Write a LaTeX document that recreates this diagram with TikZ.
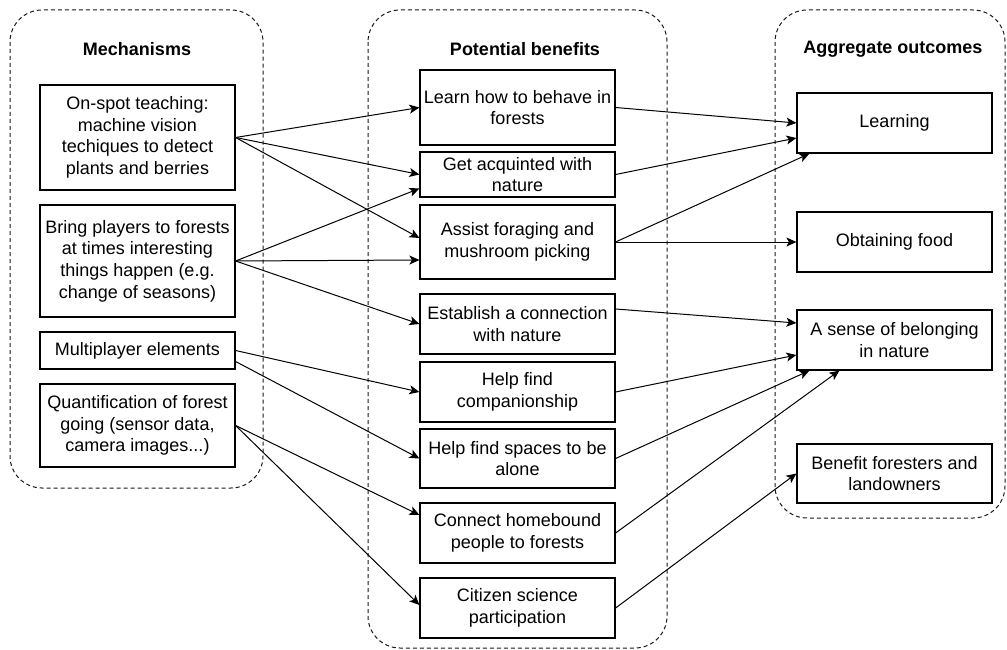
\documentclass[tikz,border=0pt]{standalone}
\usepackage{fontspec}
\setmainfont{Liberation Sans}
\usepackage{tikz}
\usetikzlibrary{arrows.meta,positioning,calc}

\begin{document}
\begin{tikzpicture}[x=1pt, y=-1pt,
    group/.style={draw=black!90, line width=1pt, dash pattern=on 4pt off 3pt, rounded corners=32pt},
    title/.style={font=\fontsize{18}{21.6}\selectfont\bfseries},
    item/.style={draw, line width=1.2pt, align=center, minimum width=195pt, inner sep=0pt,
        font=\fontsize{18}{21.6}\selectfont},
    link/.style={-{Stealth[length=10pt,width=9pt,inset=2.5pt]}, line width=1pt}]
    \useasboundingbox (0,0) rectangle (1007,650);

    % Groups
    \draw[group] (10,10) rectangle (263,488);
    \draw[group] (368,10) rectangle (667,648);
    \draw[group] (775,10) rectangle (1005,518);
    \node[title] (t1) at (137,49) {Mechanisms};
    \node[title] (t2) at (525,49) {Potential benefits};
    \node[title] (t3) at (893,49) {Aggregate outcomes};

    % Mechanisms
    \node[item, minimum height=105pt] (m1) at (137.5,137.5) {On-spot teaching:\\machine vision\\techiques to detect\\plants and berries};
    \node[item, minimum height=112pt] (m2) at (137.5,261) {Bring players to forests\\at times interesting\\things happen (e.g.\\change of seasons)};
    \node[item, minimum height=37pt] (m3) at (137.5,350.5) {Multiplayer elements};
    \node[item, minimum height=83pt] (m4) at (137.5,425.5) {Quantification of forest\\going (sensor data,\\camera images...)};

    % Potential benefits
    \node[item, minimum height=75pt] (b1) at (517.5,107.5) {Learn how to behave in\\forests};
    \node[item, minimum height=45pt] (b2) at (517.5,174.5) {Get acquinted with\\nature};
    \node[item, minimum height=74pt] (b3) at (517.5,242) {Assist foraging and\\mushroom picking};
    \node[item, minimum height=60pt] (b4) at (517.5,324) {Establish a connection\\with nature};
    \node[item, minimum height=60pt] (b5) at (517.5,392) {Help find\\companionship};
    \node[item, minimum height=59pt] (b6) at (517.5,458.5) {Help find spaces to be\\alone};
    \node[item, minimum height=60pt] (b7) at (517.5,533) {Connect homebound\\people to forests};
    \node[item, minimum height=60pt] (b8) at (517.5,608) {Citizen science\\participation};

    % Aggregate outcomes
    \node[item, minimum height=60pt] (o1) at (894.5,123) {Learning};
    \node[item, minimum height=60pt] (o2) at (894.5,242) {Obtaining food};
    \node[item, minimum height=60pt] (o3) at (894.5,340) {A sense of belonging\\in nature};
    \node[item, minimum height=59pt] (o4) at (894.5,473.5) {Benefit foresters and\\landowners};

    % Mechanisms to benefits
    \draw[link] (m1.east) -- (b1.west);
    \draw[link] (m1.east) -- (b2.west);
    \draw[link] (m1.east) -- ([yshift=4pt]b3.west);
    \draw[link] (m2.east) -- ([yshift=-14pt]b2.west);
    \draw[link] (m2.east) -- ([yshift=-18pt]b3.west);
    \draw[link] (m2.east) -- (b4.west);
    \draw[link] (m3.east) -- (b5.west);
    \draw[link] ([yshift=-11pt]m3.east) -- (b6.west);
    \draw[link] (m4.east) -- ([yshift=18pt]b7.west);
    \draw[link] (m4.east) -- ([yshift=3pt]b8.west);

    % Benefits to outcomes
    \draw[link] (b1.east) -- (o1.west);
    \draw[link] (b2.east) -- ([yshift=-15pt]o1.west);
    \draw[link] (b3.east) -- ([xshift=13pt]o1.south west);
    \draw[link] (b3.east) -- (o2.west);
    \draw[link] ([yshift=15pt]b4.east) -- ([yshift=17pt]o3.west);
    \draw[link] (b5.east) -- ([yshift=-15pt]o3.west);
    \draw[link] (b6.east) -- ([xshift=13pt]o3.south west);
    \draw[link] (b7.east) -- ([xshift=43pt]o3.south west);
    \draw[link] (b8.east) -- (o4.west);
\end{tikzpicture}
\end{document}
